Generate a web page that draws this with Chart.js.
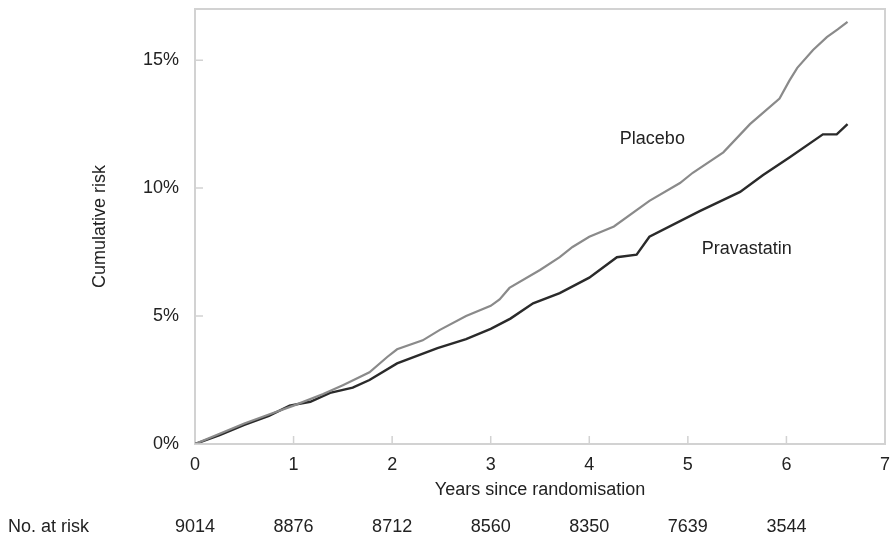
<!DOCTYPE html>
<html>
<head>
<meta charset="utf-8">
<script src="https://cdn.jsdelivr.net/npm/chart.js@4/dist/chart.umd.min.js"></script>
<style>
  html, body { margin: 0; padding: 0; background: #fff; }
  #wrap { width: 893px; height: 536px; }
</style>
</head>
<body>
<div id="wrap"><canvas id="riskChart" width="893" height="536"></canvas></div>
<script>
// Placebo curve (years, cumulative risk %)
const placeboYears = [0, 0.25, 0.5, 0.75, 1.0, 1.3, 1.5, 1.77, 1.95, 2.05, 2.31, 2.48, 2.75, 3.0, 3.09, 3.19, 3.5, 3.7, 3.83, 4.0, 4.25, 4.61, 4.92, 5.05, 5.36, 5.63, 5.93, 6.03, 6.11, 6.27, 6.41, 6.52, 6.62];
const placeboRisk  = [0, 0.4, 0.8, 1.15, 1.5, 1.95, 2.3, 2.8, 3.4, 3.7, 4.05, 4.45, 5.0, 5.4, 5.65, 6.1, 6.8, 7.3, 7.7, 8.1, 8.5, 9.5, 10.2, 10.6, 11.4, 12.5, 13.5, 14.2, 14.7, 15.4, 15.9, 16.2, 16.5];

// Pravastatin curve
const pravaYears = [0, 0.25, 0.5, 0.75, 0.96, 1.17, 1.37, 1.6, 1.77, 2.05, 2.46, 2.75, 3.0, 3.2, 3.43, 3.7, 4.0, 4.28, 4.48, 4.61, 5.12, 5.53, 5.76, 6.03, 6.37, 6.51, 6.62];
const pravaRisk  = [0, 0.35, 0.75, 1.1, 1.5, 1.65, 2.0, 2.2, 2.5, 3.15, 3.75, 4.1, 4.5, 4.9, 5.5, 5.9, 6.5, 7.3, 7.4, 8.1, 9.1, 9.85, 10.5, 11.2, 12.1, 12.1, 12.5];

// Axis ticks and number at risk row
const yTicks = [0, 5, 10, 15];
const xTicks = [0, 1, 2, 3, 4, 5, 6, 7];
const riskYears = [0, 1, 2, 3, 4, 5, 6];
const atRisk = [9014, 8876, 8712, 8560, 8350, 7639, 3544];

// Curve labels (text, year, risk %)
const curveLabels = [
    { text: 'Placebo', x: 4.31, y: 11.9 },
    { text: 'Pravastatin', x: 5.14, y: 7.6 }
];

const FONT = '"Liberation Sans", Arial, Helvetica, sans-serif';
const TEXT = '#222';
const FRAME = '#d2d2d2';

const toPoints = (xs, ys) => xs.map((x, i) => ({ x: x, y: ys[i] }));

// no extra room for the end tick labels, the layout padding sets the plot box
const noEdgePadding = s => {
    s.paddingTop = 0;
    s.paddingBottom = 0;
    s.paddingLeft = 0;
    s.paddingRight = 0;
};

// Frame, inward ticks, curve labels and the at-risk row
const extrasPlugin = {
    id: 'extras',
    afterDraw(chart) {
        const ctx = chart.ctx;
        const area = chart.chartArea;
        const xs = chart.scales.x;
        const ys = chart.scales.y;
        ctx.save();

        ctx.strokeStyle = FRAME;
        ctx.lineWidth = 2;
        ctx.beginPath();
        ctx.moveTo(area.left, area.top);
        ctx.lineTo(area.right, area.top);
        ctx.lineTo(area.right, area.bottom);
        ctx.stroke();

        ctx.lineWidth = 1.5;
        ctx.beginPath();
        yTicks.forEach(v => {
            const py = ys.getPixelForValue(v);
            ctx.moveTo(area.left, py);
            ctx.lineTo(area.left + 8, py);
        });
        xTicks.slice(1, -1).forEach(v => {
            const px = xs.getPixelForValue(v);
            ctx.moveTo(px, area.bottom);
            ctx.lineTo(px, area.bottom - 8);
        });
        ctx.stroke();

        ctx.fillStyle = TEXT;
        ctx.font = '18px ' + FONT;
        ctx.textBaseline = 'middle';
        ctx.textAlign = 'left';
        curveLabels.forEach(l => {
            ctx.fillText(l.text, xs.getPixelForValue(l.x), ys.getPixelForValue(l.y));
        });

        const rowY = 527;
        ctx.fillText('No. at risk', 8, rowY);
        ctx.textAlign = 'center';
        riskYears.forEach((yr, i) => {
            ctx.fillText(String(atRisk[i]), xs.getPixelForValue(yr), rowY);
        });
        ctx.restore();
    }
};

new Chart(document.getElementById('riskChart'), {
    type: 'line',
    data: {
        datasets: [
            {
                label: 'Placebo',
                data: toPoints(placeboYears, placeboRisk),
                borderColor: '#8a8a8a',
                borderWidth: 2.2,
                pointRadius: 0,
                tension: 0
            },
            {
                label: 'Pravastatin',
                data: toPoints(pravaYears, pravaRisk),
                borderColor: '#2a2a2a',
                borderWidth: 2.4,
                pointRadius: 0,
                tension: 0
            }
        ]
    },
    options: {
        responsive: false,
        animation: false,
        devicePixelRatio: 1,
        layout: { padding: { top: 9, right: 8, bottom: 0, left: 0 } },
        plugins: {
            legend: { display: false },
            tooltip: { enabled: false }
        },
        scales: {
            x: {
                type: 'linear',
                min: 0,
                max: 7,
                afterBuildTicks: s => { s.ticks = xTicks.map(v => ({ value: v })); },
                afterFit: s => { s.height = 92; noEdgePadding(s); },
                grid: { display: false, drawTicks: false },
                border: { display: true, color: FRAME, width: 2 },
                ticks: { color: TEXT, padding: 10, font: { family: FONT, size: 18 } },
                title: {
                    display: true,
                    text: 'Years since randomisation',
                    color: TEXT,
                    font: { family: FONT, size: 18 },
                    padding: { top: 0, bottom: 35 }
                }
            },
            y: {
                min: 0,
                max: 17,
                afterBuildTicks: s => { s.ticks = yTicks.map(v => ({ value: v })); },
                afterFit: s => { s.width = 195; noEdgePadding(s); },
                grid: { display: false, drawTicks: false },
                border: { display: true, color: FRAME, width: 2 },
                ticks: {
                    color: TEXT,
                    padding: 16,
                    font: { family: FONT, size: 18 },
                    callback: v => v + '%'
                },
                title: {
                    display: true,
                    text: 'Cumulative risk',
                    color: TEXT,
                    font: { family: FONT, size: 18 },
                    padding: { top: 89, bottom: 0 }
                }
            }
        }
    },
    plugins: [extrasPlugin]
});
</script>
</body>
</html>
